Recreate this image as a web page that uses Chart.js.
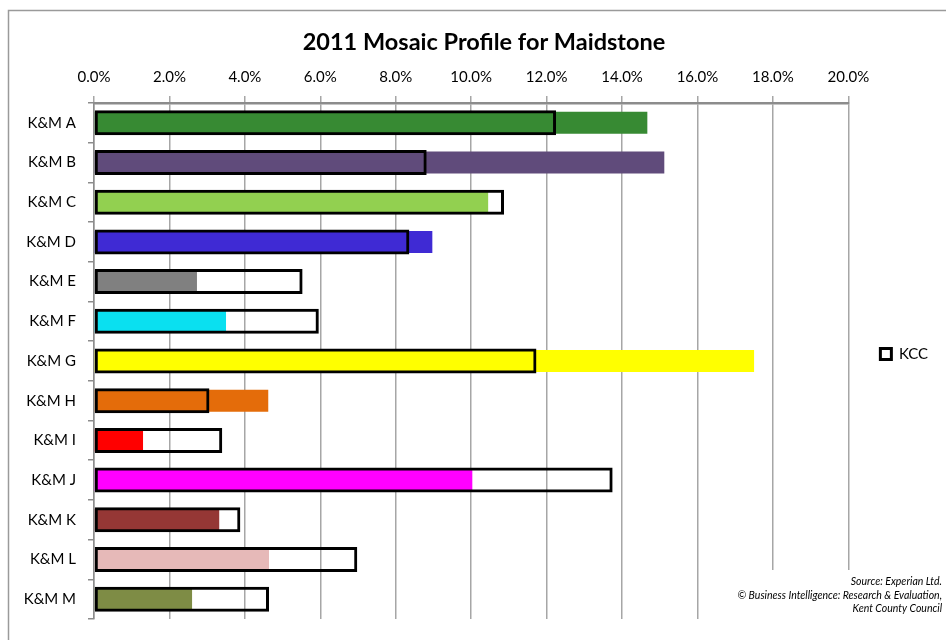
<!DOCTYPE html>
<html>
<head>
<meta charset="utf-8">
<title>2011 Mosaic Profile for Maidstone</title>
<script src="https://cdn.jsdelivr.net/npm/chart.js@4.4.1/dist/chart.umd.min.js"></script>
<style>
  html, body { margin: 0; padding: 0; background: #fff; overflow: hidden; }
  canvas { display: block; }
</style>
</head>
<body>
<canvas id="chart1" width="946" height="640"></canvas>
<script>
// groups, values in percent
const categories = ["K&M A", "K&M B", "K&M C", "K&M D", "K&M E", "K&M F", "K&M G",
                    "K&M H", "K&M I", "K&M J", "K&M K", "K&M L", "K&M M"];
const maidstone = [14.67, 15.12, 10.45, 8.97, 2.73, 3.50, 17.50, 4.62, 1.30, 10.03, 3.32, 4.64, 2.60];
const kcc = [12.25, 8.82, 10.87, 8.36, 5.53, 5.96, 11.73, 3.06, 3.40, 13.75, 3.88, 6.98, 4.64];
const groupColours = ["#378a33", "#604b7b", "#92d050", "#3f2ad4", "#808080", "#0ae0f0", "#ffff00",
                      "#e46c0a", "#ff0000", "#ff00ff", "#953735", "#e6b9b8", "#7e8c45"];
const titleText = "2011 Mosaic Profile for Maidstone";
const sourceLines = ["Source: Experian Ltd.",
                     "\u00a9 Business Intelligence: Research & Evaluation,",
                     "Kent County Council"];

const FONT = "Lato, 'Open Sans', sans-serif";

// outer frame, title (centred on the whole excel chart object, not the canvas) + source note
const extras = {
    id: "extras",
    beforeDraw(chart) {
        const ctx = chart.ctx;
        ctx.save();
        ctx.strokeStyle = "#9a9a9a";
        ctx.lineWidth = 1.5;
        ctx.strokeRect(8.5, 10.5, 1100, 800);
        ctx.fillStyle = "#000";
        ctx.font = "bold 23.5px " + FONT;
        ctx.textAlign = "center";
        ctx.textBaseline = "middle";
        ctx.fillText(titleText, 484, 42);
        ctx.restore();
    },
    afterDraw(chart) {
        const ctx = chart.ctx;
        ctx.save();
        ctx.fillStyle = "#fff";
        ctx.fillRect(735, 570, 233, 50);
        ctx.fillStyle = "#000";
        ctx.font = "italic 10.5px " + FONT;
        ctx.textAlign = "right";
        ctx.textBaseline = "middle";
        sourceLines.forEach((s, i) => ctx.fillText(s, 942, 582 + i * 13.5));
        ctx.restore();
    }
};

const chart1 = document.getElementById("chart1");
var stat1 = new Chart(chart1, {
    type: "bar",
    data: {
        labels: categories,
        datasets: [{
            label: "KCC",
            data: kcc,
            backgroundColor: "rgba(255,255,255,0)",
            borderColor: "#000000",
            borderWidth: 3,
            borderSkipped: false,
            grouped: false,
            order: 0,
            barPercentage: 0.63,
            categoryPercentage: 1
        }, {
            label: "Maidstone",
            data: maidstone,
            backgroundColor: groupColours,
            borderWidth: 0,
            grouped: false,
            order: 1,
            barPercentage: 0.555,
            categoryPercentage: 1
        }]
    },
    options: {
        indexAxis: "y",
        responsive: false,
        animation: false,
        layout: { padding: { left: 0, right: 8, top: 56.2, bottom: 0 } },
        plugins: {
            tooltip: { enabled: false },
            title: { display: false },
            legend: {
                position: "right",
                align: "center",
                title: {
                    display: true,
                    text: " ",
                    font: { family: FONT, size: 10 },
                    padding: { top: 0, bottom: 0 }
                },
                labels: {
                    color: "#000",
                    font: { family: FONT, size: 15 },
                    boxWidth: 11,
                    boxHeight: 11,
                    padding: 32,
                    filter: (item) => item.text === "KCC"
                }
            }
        },
        scales: {
            x: {
                position: "top",
                min: 0,
                max: 20,
                afterFit: (scale) => { scale.height = 46.8; },
                ticks: {
                    stepSize: 2,
                    color: "#000",
                    padding: 10,
                    font: { family: FONT, size: 15 },
                    callback: (v) => v.toFixed(1) + "%"
                },
                grid: { color: "#a6a6a6", lineWidth: 1.5, tickLength: 7 },
                border: { color: "#8c8c8c", width: 2.5 }
            },
            y: {
                afterFit: (scale) => { scale.width = 94; },
                ticks: {
                    color: "#000",
                    padding: 12,
                    font: { family: FONT, size: 15 }
                },
                grid: { offset: true, drawOnChartArea: false, color: "#8c8c8c", lineWidth: 1.5, tickLength: 6 },
                border: { color: "#8c8c8c", width: 1.5 }
            }
        }
    },
    plugins: [extras]
});
</script>
</body>
</html>
